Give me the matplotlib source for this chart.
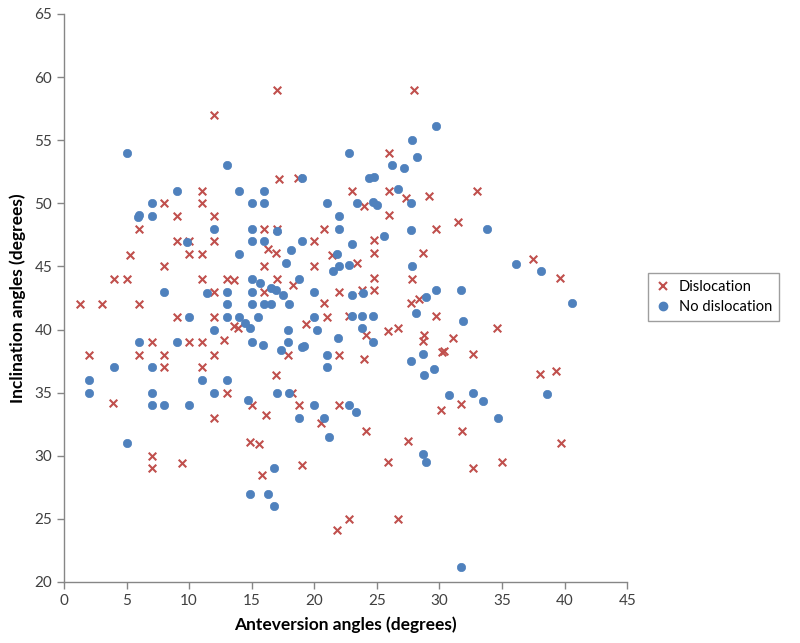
import matplotlib
matplotlib.use("Agg")
import matplotlib.pyplot as plt
from matplotlib.lines import Line2D

plt.rcParams['font.family'] = ['Lato', 'DejaVu Sans']

disloc_x = [1.3, 2, 3, 3.9, 4, 5, 5.3, 6, 6, 6, 7, 7, 7, 8, 8, 8, 8, 9, 9, 9, 9.4, 10, 10, 10, 11, 11, 11, 11, 11, 11,
            12, 12, 12, 12, 12, 12, 12, 12.8, 13, 13, 13.6, 13.6, 13.9, 14.9, 15, 15.6, 15.8, 16, 16, 16, 16.1, 16.3,
            16.9, 16.9, 17, 17, 17, 17.2, 17.9, 18.2, 18.3, 18.7, 18.8, 19, 19.3, 20, 20, 20.5, 20.8, 20.8, 21, 21.4,
            21.8, 22, 22, 22, 22.8, 22.8, 23, 23.4, 23.8, 24, 24, 24.1, 24.1, 24.8, 24.8, 24.8, 24.8, 25.9, 25.9, 26,
            26, 26, 26.7, 26.7, 27.3, 27.5, 27.7, 27.8, 28, 28.4, 28.7, 28.7, 28.8, 29.2, 29.7, 29.7, 30.1, 30.2, 30.4,
            31.1, 31.5, 31.7, 31.8, 32.7, 32.7, 33, 34.6, 35, 37.5, 38, 39.3, 39.6, 39.7]
disloc_y = [42, 38, 42, 34.2, 44, 44, 45.9, 48, 42, 38, 39, 30, 29, 50, 45, 38, 37, 49, 47, 41, 29.4, 47, 46, 39, 51, 50, 46, 44, 39, 37,
            57, 49, 47, 43, 41, 38, 33, 39.2, 44, 35, 43.9, 40.3, 40.1, 31.1, 34, 30.9, 28.5, 48, 45, 43, 33.2, 46.4,
            46.1, 36.4, 59, 48, 44, 51.9, 38, 35, 43.5, 52, 34, 29.3, 40.4, 47, 45, 32.6, 42.1, 48, 41, 45.9,
            24.1, 43, 38, 34, 41.1, 25, 51, 45.3, 43.1, 49.8, 37.7, 39.6, 32, 47.1, 46.1, 44.1, 43.1, 39.9, 29.5, 54,
            51, 49.1, 40.1, 25, 50.4, 31.2, 42.1, 44, 59, 42.4, 46.1, 39.1, 39.6, 50.6, 48, 41.1, 33.6, 38.2, 38.3,
            39.3, 48.5, 34.1, 32, 38.1, 29, 51, 40.1, 29.5, 45.6, 36.5, 36.7, 44.1, 31]

nodis_x = [2, 2, 4, 5, 5, 5.9, 6, 6, 7, 7, 7, 7, 7, 8, 8, 9, 9, 9.8, 10, 10, 11, 11.4, 12, 12, 12, 13, 13, 13, 13, 13,
           14, 14, 14, 14.5, 14.7, 14.9, 14.9, 15, 15, 15, 15, 15, 15, 15, 15.5, 15.7, 15.9, 16, 16, 16, 16, 16.3,
           16.5, 16.5, 16.8, 16.8, 16.9, 17, 17, 17.3, 17.5, 17.7, 17.9, 17.9, 18, 18, 18.1, 18.8, 18.8, 19, 19, 19,
           19.2, 20, 20, 20, 20.2, 20.8, 21, 21, 21, 21.2, 21.5, 21.8, 21.9, 22, 22, 22, 22.8, 22.8, 22.8, 23, 23, 23,
           23.3, 23.4, 23.8, 23.8, 23.9, 24.4, 24.7, 24.7, 24.7, 24.8, 25, 25.6, 26.2, 26.7, 27.2, 27.7, 27.7, 27.7,
           27.8, 27.8, 28.1, 28.2, 28.7, 28.7, 28.8, 28.9, 28.9, 29.6, 29.7, 29.7, 30.8, 31.7, 31.7, 31.9, 32.7, 33.5,
           33.8, 34.7, 36.1, 38.1, 38.6, 40.6]
nodis_y = [36, 35, 37, 54, 31, 48.9, 49.1, 39, 50, 49, 37, 35, 34, 43, 34, 51, 39, 46.9, 41, 34, 36, 42.9, 48, 40, 35, 53, 43, 42, 41, 36,
           51, 46, 41, 40.5, 34.4, 40.1, 27, 50, 48, 47, 44, 43, 42, 39, 41, 43.7, 38.8, 51, 50, 47, 42, 27,
           43.3, 42, 29, 26, 43.1, 47.8, 35, 38.4, 42.7, 45.3, 40, 39, 42, 35, 46.3, 44, 33, 52, 47, 38.6,
           38.7, 43, 41, 34, 40, 33, 50, 38, 37, 31.5, 44.6, 46, 39.3, 49, 48, 45, 54, 45.1, 34, 46.8, 42.7, 41.1,
           33.5, 50, 41.1, 40.1, 42.9, 52, 50.1, 41.1, 39, 52.1, 49.9, 47.4, 53, 51.1, 52.8, 50, 47.9, 37.5,
           55, 45, 41.3, 53.7, 38.1, 30.1, 36.4, 42.6, 29.5, 36.9, 56.1, 43.1, 34.8, 43.1, 21.2, 40.7, 35, 34.3,
           48, 33, 45.2, 44.6, 34.9, 42.1]

x_ticks = [0, 5, 10, 15, 20, 25, 30, 35, 40, 45]
y_ticks = [20, 25, 30, 35, 40, 45, 50, 55, 60, 65]

red = '#C0504D'
blue = '#4F81BD'
gray = '#868686'

fig = plt.figure(figsize=(8, 6.43), dpi=100)
ax = fig.add_axes([0.08, 0.0949, 0.704, 0.8834])

ax.scatter(disloc_x, disloc_y, marker='x', s=30, color=red, linewidths=1.5, label='Dislocation', zorder=3)
ax.scatter(nodis_x, nodis_y, marker='o', s=36, color=blue, edgecolors=blue, linewidths=0.5, label='No dislocation', zorder=4)

ax.set_xlim(0, 45)
ax.set_ylim(20, 65)
ax.set_xticks(x_ticks)
ax.set_yticks(y_ticks)
for s in ['top', 'right']:
    ax.spines[s].set_visible(False)
for s in ['left', 'bottom']:
    ax.spines[s].set_color(gray)
    ax.spines[s].set_linewidth(1)
ax.tick_params(direction='out', length=5, width=1, color=gray, labelsize=11, labelcolor='#404040')

ax.set_xlabel('Anteversion angles (degrees)', fontsize=12.5, fontweight='bold', labelpad=6)
ax.set_ylabel('Inclination angles (degrees)', fontsize=12.5, fontweight='bold', labelpad=6)

handles = [Line2D([], [], marker='x', color=red, linestyle='none', markersize=6, markeredgewidth=1.5),
           Line2D([], [], marker='o', color=blue, linestyle='none', markersize=6)]
leg = fig.legend(handles, ['Dislocation', 'No dislocation'], loc='center left',
                 bbox_to_anchor=(0.81, 0.538), borderaxespad=0, frameon=True, fancybox=False,
                 edgecolor=gray, fontsize=10.5, handlelength=1.0, handletextpad=0.6,
                 borderpad=0.5, labelspacing=0.4)
leg.get_frame().set_linewidth(1)

fig.savefig('out.png', dpi=100)
